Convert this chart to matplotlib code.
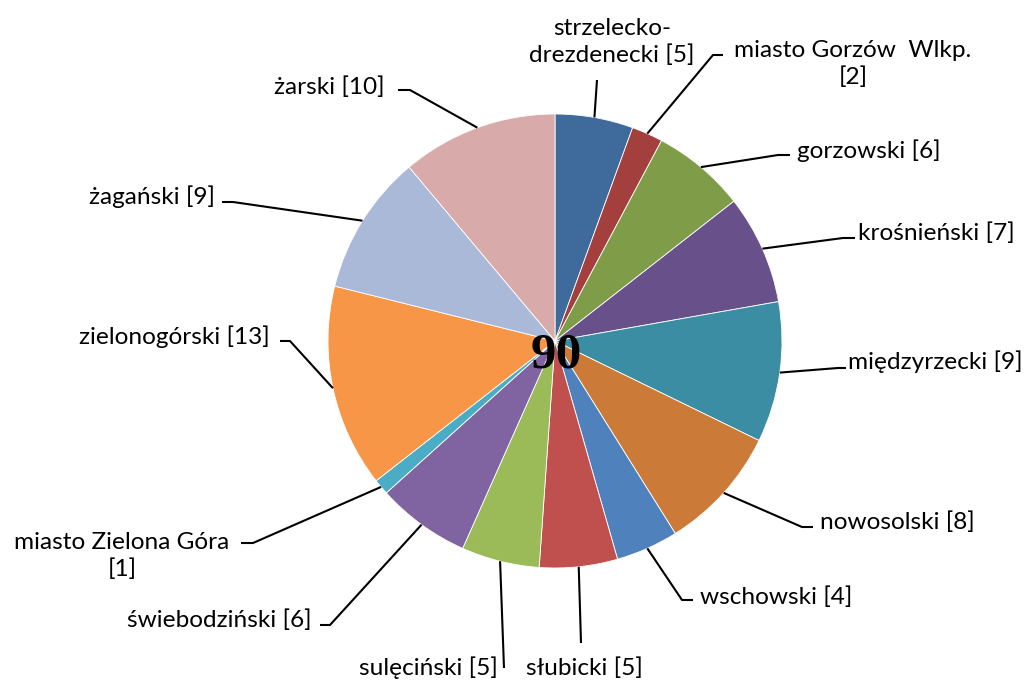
import numpy as np
import matplotlib
matplotlib.use("Agg")
import matplotlib.pyplot as plt

# powiaty i liczba jednostek
names = ["strzelecko-\ndrezdenecki", "miasto Gorzów  Wlkp.\n", "gorzowski", "krośnieński",
         "międzyrzecki", "nowosolski", "wschowski", "słubicki", "sulęciński",
         "świebodziński", "miasto Zielona Góra\n", "zielonogórski", "żagański", "żarski"]
values = [5, 2, 6, 7, 9, 8, 4, 5, 5, 6, 1, 13, 9, 10]
colors = ["#3F6A9C", "#A33F3C", "#7F9C48", "#68518A", "#3A8DA3", "#CC7A37", "#4F81BD",
          "#C0504D", "#9BBB59", "#8064A2", "#4BACC6", "#F79646", "#AAB9D7", "#D9AAAA"]
total = sum(values)

W, H = 1027, 684
CX, CY, R = 555, 341, 227

# layout of labels (pixel coords, y down): text pos, ha, elbow, end of leader
layout = [
    ((612, 42), "center", (597, 80), (597, 80)),
    ((853, 64), "center", (713, 55), (723, 55)),
    ((797, 151), "left", (778, 155), (790, 155)),
    ((858, 233), "left", (843, 238), (855, 238)),
    ((848, 362), "left", (838, 368), (846, 368)),
    ((820, 522), "left", (802, 527), (813, 527)),
    ((700, 597), "left", (682, 600), (693, 600)),
    ((584, 668), "center", (581, 643), (581, 643)),
    ((498, 668), "right", (504, 668), (504, 668)),
    ((312, 620), "right", (330, 625), (320, 625)),
    ((122, 556), "center", (253, 543), (241, 543)),
    ((270, 337), "right", (290, 341), (280, 341)),
    ((215, 197), "right", (233, 202), (222, 202)),
    ((385, 87), "right", (410, 90), (398, 90)),
]

fig = plt.figure(figsize=(W / 100, H / 100), dpi=100)
ax = fig.add_axes([0, 0, 1, 1])

wedges, _ = ax.pie(values, colors=colors, startangle=90, counterclock=False,
                   center=(CX, H - CY), radius=R,
                   wedgeprops=dict(edgecolor="white", linewidth=0.6))
# pie() sets its own limits, so put the pixel frame back afterwards
ax.set_xlim(0, W)
ax.set_ylim(0, H)
ax.set_aspect("equal")
ax.axis("off")

font = ["Lato", "DejaVu Sans"]
for w, n, v, (tp, ha, elbow, end) in zip(wedges, names, values, layout):
    ang = np.deg2rad((w.theta1 + w.theta2) / 2)
    sx = CX + R * np.cos(ang)
    sy = (H - CY) + R * np.sin(ang)
    ax.plot([sx, elbow[0], end[0]], [sy, H - elbow[1], H - end[1]],
            color="black", lw=1.5, solid_capstyle="butt")
    txt = f"{n}[{v}]" if n.endswith("\n") else f"{n} [{v}]"
    ax.text(tp[0], H - tp[1], txt, ha=ha, va="center", multialignment="center",
            fontsize=17.6, family=font, color="black", linespacing=1.25)

ax.text(556, H - 355, str(total), ha="center", va="center", fontsize=37,
        fontweight="bold", family=["Liberation Serif", "DejaVu Serif"], color="black")

fig.savefig("out.png", dpi=100, facecolor="white")
